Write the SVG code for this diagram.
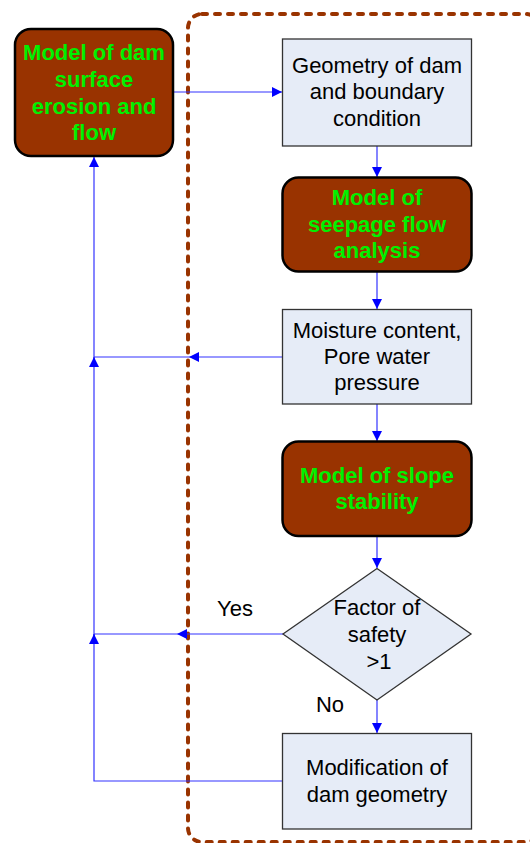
<svg xmlns="http://www.w3.org/2000/svg" width="530" height="843" viewBox="0 0 530 843">
<style>
.model{fill:#993300;stroke:#000;stroke-width:2.5}
.box{fill:#E6ECF7;stroke:#333;stroke-width:1.3}
.gt{font-family:"Liberation Sans",Arial,sans-serif;font-size:22px;font-weight:bold;fill:#00F000;text-anchor:middle}
.bt{font-family:"Liberation Sans",Arial,sans-serif;font-size:22px;fill:#000;text-anchor:middle}
.c{fill:none;stroke:#3333FF;stroke-width:1.2}
</style>
<defs>
<marker id="arr" viewBox="0 0 10 10" refX="10" refY="5" markerWidth="10" markerHeight="10" markerUnits="userSpaceOnUse" orient="auto">
<path d="M0,0 L10,5 L0,10 Z" fill="#0000FF"/>
</marker>
</defs>
<rect x="188" y="14" width="352" height="828" rx="14" fill="none" stroke="#993300" stroke-width="4" stroke-dasharray="5 8" stroke-linecap="round"/>
<g id="connectors">
<path class="c" d="M173,92 H282" marker-end="url(#arr)"/>
<path class="c" d="M377,146 V177" marker-end="url(#arr)"/>
<path class="c" d="M377,272 V309" marker-end="url(#arr)"/>
<path class="c" d="M377,404 V441" marker-end="url(#arr)"/>
<path class="c" d="M377,536 V568" marker-end="url(#arr)"/>
<path class="c" d="M377,700 V733" marker-end="url(#arr)"/>
<path class="c" d="M282,357 H189" marker-end="url(#arr)"/>
<path class="c" d="M189,357 H94"/>
<path class="c" d="M283,634 H177" marker-end="url(#arr)"/>
<path class="c" d="M177,634 H94"/>
<path class="c" d="M282,781 H94 V634"/>
<path class="c" d="M94,644 V357"/>
<path class="c" d="M94,644 V634" marker-end="url(#arr)"/>
<path class="c" d="M94,367 V357" marker-end="url(#arr)"/>
<path class="c" d="M94,357 V157" marker-end="url(#arr)"/>
<text class="bt" x="235" y="616">Yes</text>
<text class="bt" x="330" y="712">No</text>
</g>
<g id="n1">
<rect class="model" x="15" y="29" width="158" height="127" rx="16"/>
<text class="gt" x="94" y="60">Model of dam</text>
<text class="gt" x="94" y="87">surface</text>
<text class="gt" x="94" y="114">erosion and</text>
<text class="gt" x="94" y="140">flow</text>
</g>
<g id="n2">
<rect class="box" x="282.5" y="39" width="189" height="107"/>
<text class="bt" x="377" y="73">Geometry of dam</text>
<text class="bt" x="377" y="99">and boundary</text>
<text class="bt" x="377" y="126">condition</text>
</g>
<g id="n3">
<rect class="model" x="282.5" y="177.5" width="189" height="94" rx="16"/>
<text class="gt" x="377" y="205">Model of</text>
<text class="gt" x="377" y="232">seepage flow</text>
<text class="gt" x="377" y="258">analysis</text>
</g>
<g id="n4">
<rect class="box" x="282.5" y="309.5" width="189" height="94.5"/>
<text class="bt" x="377" y="338">Moisture content,</text>
<text class="bt" x="377" y="364">Pore water</text>
<text class="bt" x="377" y="390">pressure</text>
</g>
<g id="n5">
<rect class="model" x="282.5" y="441.5" width="189" height="94.5" rx="16"/>
<text class="gt" x="377" y="483">Model of slope</text>
<text class="gt" x="377" y="509">stability</text>
</g>
<g id="n6">
<polygon class="box" points="377,568.5 471,634 377,700 283,634"/>
<text class="bt" x="377" y="615">Factor of</text>
<text class="bt" x="377" y="642">safety</text>
<text class="bt" x="379" y="669">&gt;1</text>
</g>
<g id="n7">
<rect class="box" x="282.5" y="733.5" width="189" height="95.5"/>
<text class="bt" x="377" y="775">Modification of</text>
<text class="bt" x="377" y="802">dam geometry</text>
</g>
</svg>
